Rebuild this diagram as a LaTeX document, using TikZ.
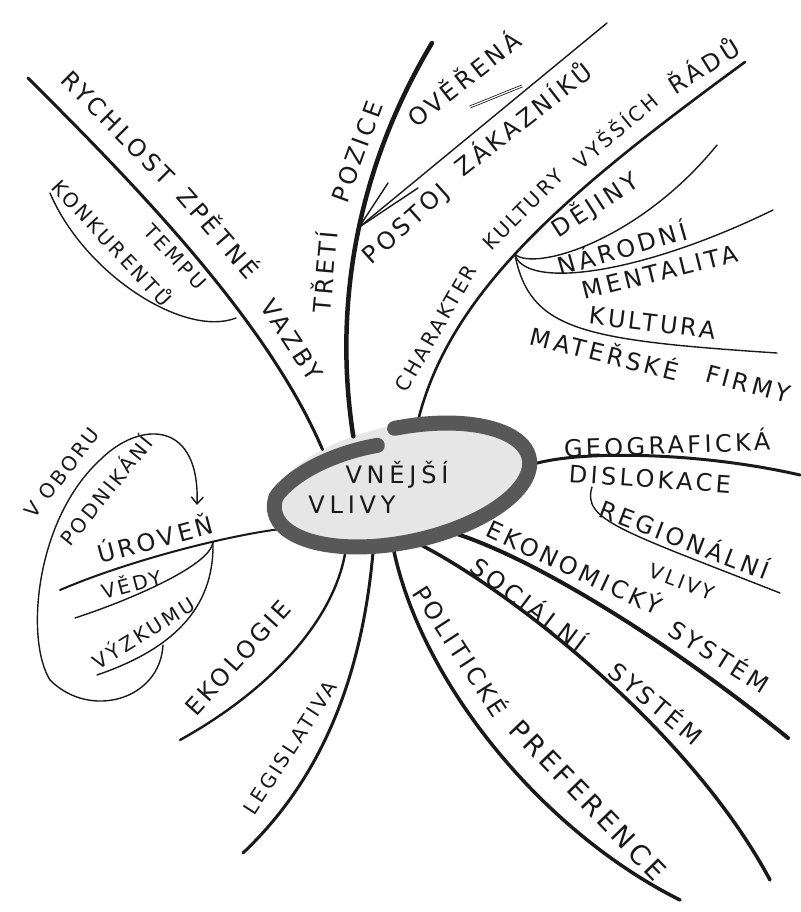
\documentclass[tikz,border=0pt]{standalone}
\usepackage{fontspec}
\usepackage{xcolor}
\usepackage{tikz}
\usetikzlibrary{shapes.geometric, arrows.meta}
\newfontfamily\hand[LetterSpace=14]{DejaVu Sans}
\newfontfamily\handwide[LetterSpace=20]{DejaVu Sans}
\definecolor{ink}{RGB}{25, 25, 25}
\definecolor{ringgray}{RGB}{88, 88, 88}
\definecolor{hubfill}{RGB}{230, 230, 230}

\begin{document}
\begin{tikzpicture}[x=1pt, y=-1pt,
    hub/.style={ellipse, fill=hubfill, minimum width=266pt, minimum height=120pt, inner sep=0pt, rotate=12},
    branch/.style={draw=ink, line width=3pt, line cap=round},
    twig/.style={draw=ink, line width=1.4pt, line cap=round},
    lbl/.style={text=ink, font=\hand\fontsize{24}{26}\selectfont, inner sep=0pt},
    lblsm/.style={text=ink, font=\hand\fontsize{20}{22}\selectfont, inner sep=0pt},
    lblbig/.style={text=ink, font=\hand\fontsize{27}{29}\selectfont, inner sep=0pt},
    hubtxt/.style={text=ink, font=\handwide\fontsize{24}{26}\selectfont, inner sep=0pt}
]
    \useasboundingbox (0,0) rectangle (800,912);
    \fill[white] (0,0) rectangle (800,912);

    \node[hub] (hub) at (402,485) {};

    \coordinate (rychEnd) at (28,78);
    \coordinate (tempoStart) at (236,318);
    \coordinate (tempoEnd) at (50,193);
    \coordinate (tretiEnd) at (432,43);
    \coordinate (postojEnd) at (607,23);
    \coordinate (overA) at (388,183);
    \coordinate (overB) at (418,188);
    \coordinate (overC) at (470,107);
    \coordinate (overD) at (522,86);
    \coordinate (charEnd) at (745,62);
    \coordinate (dejinyEnd) at (717,145);
    \coordinate (narodEnd) at (773,210);
    \coordinate (kultEnd) at (777,353);
    \coordinate (geoEnd) at (800,475);
    \coordinate (regStart) at (592,487);
    \coordinate (regEnd) at (780,593);
    \coordinate (ekonEnd) at (788,738);
    \coordinate (socEnd) at (770,880);
    \coordinate (polEnd) at (680,900);
    \coordinate (legEnd) at (243,853);
    \coordinate (ekolEnd) at (180,740);
    \coordinate (urovEnd) at (60,590);
    \coordinate (vedyEnd) at (75,618);
    \coordinate (vyzkEnd) at (97,675);
    \coordinate (loopStart) at (163,645);
    \coordinate (loopEnd) at (197,505);

    \draw[branch] (hub.144) .. controls (266,317) and (128,178) .. (rychEnd);
    \draw[twig] (tempoStart) .. controls (185,338) and (85,275) .. (tempoEnd);
    \draw[branch, line width=4.5pt] (hub.123) .. controls (335,320) and (350,180) .. (tretiEnd) coordinate[pos=0.55] (postojFork);
    \draw[twig] (postojFork) -- (postojEnd);
    \draw[twig] (postojFork) -- (overA);
    \draw[twig] (postojFork) -- (overB);
    \draw[ink, line width=0.8pt, double=white, double distance=1.2pt] (overC) -- (overD);
    \draw[branch, line width=2.6pt] (hub.64) .. controls (450,290) and (570,190) .. (charEnd) coordinate[pos=0.46] (charFork);
    \draw[twig] (charFork) .. controls (535,272) and (640,240) .. (dejinyEnd);
    \draw[twig] (charFork) .. controls (525,290) and (640,275) .. (narodEnd);
    \draw[twig] (charFork) .. controls (530,330) and (580,340) .. (kultEnd);
    \draw[branch] (hub.357) .. controls (580,450) and (700,452) .. (geoEnd);
    \draw[twig] (regStart) .. controls (582,520) and (620,530) .. (regEnd);
    \draw[branch, line width=4pt] (hub.305) .. controls (540,560) and (680,650) .. (ekonEnd);
    \draw[branch, line width=3.5pt] (hub.273) .. controls (510,590) and (690,730) .. (socEnd);
    \draw[branch, line width=3.5pt] (hub.250) .. controls (420,680) and (540,830) .. (polEnd);
    \draw[branch] (hub.234) .. controls (362,680) and (320,780) .. (legEnd);
    \draw[branch, line width=2.4pt] (hub.217) .. controls (335,620) and (270,690) .. (ekolEnd);
    \draw[branch, line width=2pt] (hub.188) .. controls (230,535) and (130,560) .. (urovEnd) coordinate[pos=0.35] (urovFork);
    \draw[twig] (urovFork) .. controls (212,565) and (130,600) .. (vedyEnd);
    \draw[twig] (urovFork) .. controls (215,610) and (170,650) .. (vyzkEnd);
    \draw[twig, -{Straight Barb[length=7pt, width=12pt]}] (loopStart) .. controls (160,700) and (90,720) .. (50,680)
        .. controls (25,640) and (35,520) .. (100,460) .. controls (140,420) and (200,420) .. (loopEnd);

    \begin{scope}[shift={(402,485)}, rotate=12, x=1pt, y=1pt]
        \draw[ringgray, line width=15pt, line cap=round] plot[smooth, domain=88:-261, samples=90]
            ({130*(1-0.22*max(0,-195-(\x))/66)*cos(\x)}, {57*(1-0.22*max(0,-195-(\x))/66)*sin(\x)});
    \end{scope}

    \node[hubtxt] (vnejsi) at (397,475) {VNĚJŠÍ};
    \node[hubtxt] (vlivy) at (352,505) {VLIVY};

    \node[lbl, rotate=-45] (rychlost) at (118,128) {RYCHLOST};
    \node[lbl, rotate=-49] (zpetne) at (220,232) {ZPĚTNÉ};
    \node[lbl, rotate=-57] (vazby) at (292,340) {VAZBY};
    \node[lblsm, rotate=-47] (tempu) at (175,257) {TEMPU};
    \node[lblsm, rotate=-47] (konkur) at (113,242) {KONKURENTŮ};
    \node[lbl, rotate=85] (treti) at (323,272) {TŘETÍ};
    \node[lbl, rotate=70] (pozice) at (357,152) {POZICE};
    \node[lbl, rotate=38] (overena) at (463,78) {OVĚŘENÁ};
    \node[lbl, rotate=42] (postoj) at (407,225) {POSTOJ};
    \node[lbl, rotate=38] (zakaz) at (522,118) {ZÁKAZNÍKŮ};
    \node[lblsm, rotate=60] (charakter) at (436,328) {CHARAKTER};
    \node[lblsm, rotate=45] (kultury) at (523,210) {KULTURY};
    \node[lblsm, rotate=40] (vyssich) at (615,130) {VYŠŠÍCH};
    \node[lbl, rotate=32] (radu) at (703,65) {ŘÁDŮ};
    \node[lbl, rotate=33] (dejiny) at (595,205) {DĚJINY};
    \node[lbl, rotate=16] (narodni) at (622,247) {NÁRODNÍ};
    \node[lbl, rotate=14] (mentalita) at (660,272) {MENTALITA};
    \node[lbl, rotate=-7] (kultura) at (653,323) {KULTURA};
    \node[lbl, rotate=-14] (materske) at (605,352) {MATEŘSKÉ};
    \node[lbl, rotate=-15] (firmy) at (748,384) {FIRMY};
    \node[lbl, rotate=2] (geogr) at (667,443) {GEOGRAFICKÁ};
    \node[lbl, rotate=-4] (dislok) at (650,479) {DISLOKACE};
    \node[lbl, rotate=-21] (region) at (685,538) {REGIONÁLNÍ};
    \node[lblsm, rotate=-21] (regvlivy) at (682,582) {VLIVY};
    \node[lbl, rotate=-25] (ekonom) at (575,566) {EKONOMICKÝ};
    \node[lbl, rotate=-32] (ekonsys) at (720,655) {SYSTÉM};
    \node[lbl, rotate=-37] (social) at (530,603) {SOCIÁLNÍ};
    \node[lbl, rotate=-40] (socsys) at (657,702) {SYSTÉM};
    \node[lbl, rotate=-57] (polit) at (462,650) {POLITICKÉ};
    \node[lblbig, rotate=-46] (prefer) at (588,800) {PREFERENCE};
    \node[lblsm, rotate=57] (legisl) at (290,748) {LEGISLATIVA};
    \node[lbl, rotate=48] (ekolog) at (238,658) {EKOLOGIE};
    \node[lbl, rotate=15] (uroven) at (155,538) {ÚROVEŇ};
    \node[lblsm, rotate=15] (vedy) at (131,583) {VĚDY};
    \node[lblsm, rotate=32] (vyzkum) at (143,632) {VÝZKUMU};
    \node[lblsm, rotate=52] (vobor) at (62,473) {V OBORU};
    \node[lblsm, rotate=51] (podnik) at (105,490) {PODNIKÁNÍ};
\end{tikzpicture}
\end{document}
